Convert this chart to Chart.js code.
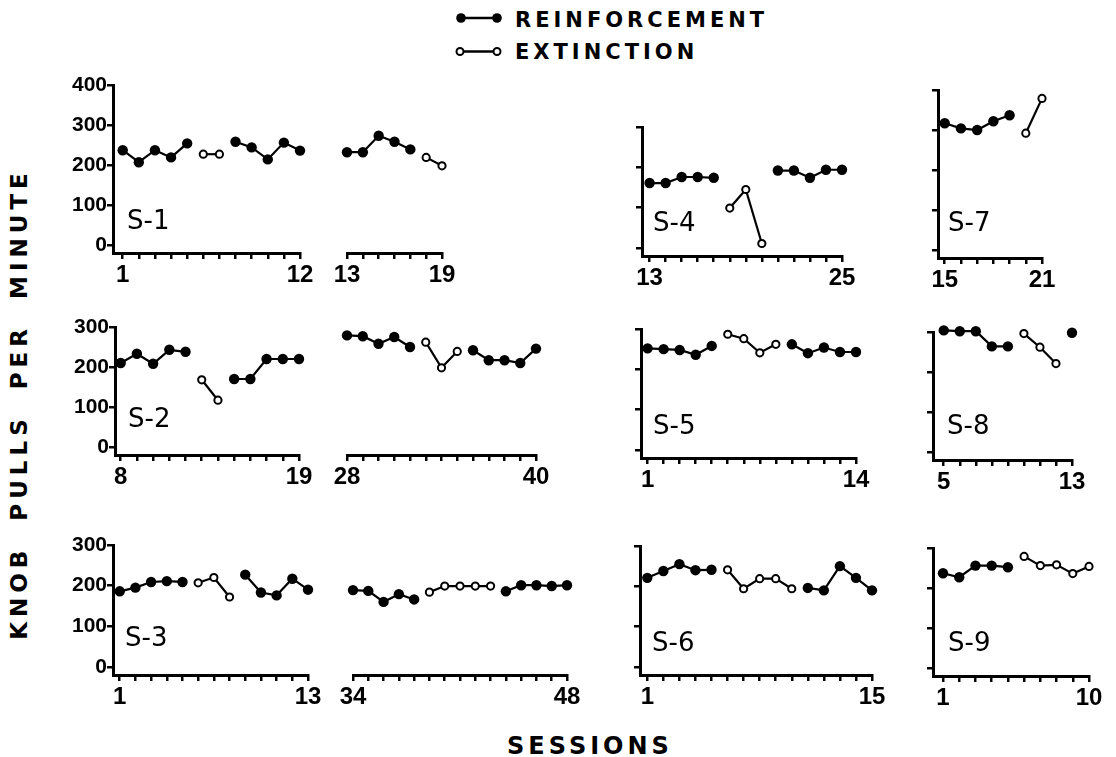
<!DOCTYPE html>
<html>
<head>
  <meta charset="UTF-8" />
  <title>Knob pulls per minute</title>
  <script src="https://cdn.jsdelivr.net/npm/chart.js"></script>
  <style>
    body {
      margin: 0;
      background: #fff;
    }

    #page {
      position: relative;
      width: 1116px;
      height: 757px;
      overflow: hidden;
      font-family: "DejaVu Sans", sans-serif;
      color: #000;
    }

    canvas {
      position: absolute;
    }

    .subj {
      position: absolute;
      font-size: 26px;
      line-height: 26px;
      white-space: nowrap;
    }

    .legend-text {
      position: absolute;
      left: 515px;
      font-size: 21px;
      line-height: 21px;
      font-weight: bold;
      letter-spacing: 4px;
      white-space: nowrap;
    }

    #ytitle {
      position: absolute;
      left: 19px;
      top: 404px;
      font-size: 23px;
      line-height: 23px;
      font-weight: bold;
      letter-spacing: 5px;
      word-spacing: 12px;
      white-space: nowrap;
      transform: translate(-50%, -50%) rotate(-90deg);
    }

    #xtitle {
      position: absolute;
      left: 507px;
      top: 734px;
      font-size: 24px;
      line-height: 24px;
      font-weight: bold;
      letter-spacing: 4px;
      white-space: nowrap;
    }
  </style>
</head>
<body>
  <div id="page">
    <svg style="position:absolute;left:450px;top:8px" width="60" height="56">
      <line x1="11" y1="10" x2="47" y2="10" stroke="#000" stroke-width="2.5" />
      <circle cx="11" cy="10" r="4.8" fill="#000" />
      <circle cx="47" cy="10" r="4.8" fill="#000" />
      <line x1="10" y1="43.5" x2="47" y2="43.5" stroke="#000" stroke-width="2.5" />
      <circle cx="10" cy="43.5" r="3.5" fill="#fff" stroke="#000" stroke-width="2" />
      <circle cx="47" cy="43.5" r="3.5" fill="#fff" stroke="#000" stroke-width="2" />
    </svg>
    <div class="legend-text" style="top:10px">REINFORCEMENT</div>
    <div class="legend-text" style="top:42px">EXTINCTION</div>
    <div id="ytitle">KNOB PULLS PER MINUTE</div>
    <div id="xtitle">SESSIONS</div>
  </div>

  <script>
    // y tick values used on every panel
    const yTickValues = [0, 100, 200, 300, 400];

    // R = reinforcement, E = extinction
    const s1aRange = [1, 12];
    const s1aValues = [237, 207, 237, 219, 254, 227, 227, 258, 244, 214, 256, 236];
    const s1aPhase = 'RRRRREERRRRR';

    const s1bRange = [13, 19];
    const s1bValues = [232, 232, 273, 258, 239, 219, 198];
    const s1bPhase = 'RRRRREE';

    const s4Range = [13, 25];
    const s4Values = [161, 161, 176, 176, 174, 99, 145, 11, 192, 192, 174, 194, 194];
    const s4Phase = 'RRRRREEERRRRR';

    const s7Range = [15, 21];
    const s7Values = [317, 304, 300, 322, 337, 292, 379];
    const s7Phase = 'RRRRREE';

    const s2aRange = [8, 19];
    const s2aValues = [210, 233, 208, 243, 238, 168, 117, 170, 170, 220, 220, 220];
    const s2aPhase = 'RRRRREERRRRR';

    const s2bRange = [28, 40];
    const s2bValues = [279, 277, 258, 275, 250, 262, 198, 239, 242, 217, 217, 210, 246];
    const s2bPhase = 'RRRRREEERRRRR';

    const s5Range = [1, 14];
    const s5Values = [252, 250, 248, 236, 258, 287, 276, 241, 262, 262, 240, 254, 243, 243];
    const s5Phase = 'RRRRREEEERRRRR';

    const s8Range = [5, 13];
    const s8Values = [304, 302, 302, 264, 264, 296, 262, 221, 298];
    const s8Phase = 'RRRRREEER';

    const s3aRange = [1, 13];
    const s3aValues = [186, 195, 209, 211, 209, 207, 220, 172, 227, 183, 176, 217, 190];
    const s3aPhase = 'RRRRREEERRRRR';

    const s3bRange = [34, 48];
    const s3bValues = [189, 187, 160, 179, 166, 184, 199, 199, 199, 199, 186, 201, 201, 199, 201];
    const s3bPhase = 'RRRRREEEEERRRRR';

    const s6Range = [1, 15];
    const s6Values = [221, 238, 255, 240, 241, 241, 194, 219, 219, 194, 196, 190, 250, 221, 190];
    const s6Phase = 'RRRRREEEEERRRRR';

    const s9Range = [1, 10];
    const s9Values = [237, 227, 256, 256, 252, 279, 256, 258, 236, 254];
    const s9Phase = 'RRRRREEEEE';

    const NUM_FONT = '"Liberation Sans", Arial, sans-serif';
    const PAD_T = 20;
    const PAD_R = 20;
    const HX = 40;

    const page = document.getElementById('page');

    function subjLabel(text, left, capTop) {
      const d = document.createElement('div');
      d.className = 'subj';
      d.textContent = text;
      d.style.left = left + 'px';
      d.style.top = (capTop - 3) + 'px';
      page.appendChild(d);
    }

    // lay: axisX (null = no y axis), firstX, lastX, topY, zeroY in page pixels
    function makePanel(range, values, phase, lay) {
      const first = range[0], last = range[1];
      const sessions = values.map((v, i) => first + i);
      const spacing = (lay.lastX - lay.firstX) / (last - first);
      const hasY = lay.axisX !== null;
      const yw = !hasY ? 0 : (lay.labels ? 56 : 14);
      const padLeft = hasY ? 0 : 16;
      const chartLeft = hasY ? lay.axisX : lay.firstX;
      const xMin = first - (lay.firstX - chartLeft) / spacing;
      const ppu = (lay.zeroY - lay.topY) / lay.yMax;
      const baseline = lay.zeroY + 20 * ppu;

      const canvasLeft = Math.round(chartLeft - yw - padLeft);
      const canvasTop = Math.round(lay.topY - PAD_T);
      const w = Math.round(lay.lastX - canvasLeft + PAD_R);
      const h = Math.round(PAD_T + (baseline - lay.topY) + HX);

      const c = document.createElement('canvas');
      c.width = w;
      c.height = h;
      c.style.left = canvasLeft + 'px';
      c.style.top = canvasTop + 'px';
      page.appendChild(c);

      const pick = (p) => sessions.map((s, i) => ({ x: s, y: phase[i] === p ? values[i] : null }));

      new Chart(c.getContext('2d'), {
        type: 'line',
        data: {
          datasets: [
            {
              label: 'Reinforcement',
              data: pick('R'),
              borderColor: '#000',
              borderWidth: 2.2,
              pointRadius: 5.2,
              pointBackgroundColor: '#000',
              pointBorderWidth: 0,
              spanGaps: false,
              clip: false
            },
            {
              label: 'Extinction',
              data: pick('E'),
              borderColor: '#000',
              borderWidth: 2.2,
              pointRadius: 3.6,
              pointBackgroundColor: '#fff',
              pointBorderColor: '#000',
              pointBorderWidth: 2,
              spanGaps: false,
              clip: false
            }
          ]
        },
        options: {
          responsive: false,
          animation: false,
          events: [],
          layout: { padding: { top: PAD_T, right: PAD_R, left: padLeft, bottom: 0 } },
          plugins: { legend: { display: false }, tooltip: { enabled: false } },
          scales: {
            x: {
              type: 'linear',
              min: xMin,
              max: last,
              afterBuildTicks: (s) => { s.ticks = sessions.map(v => ({ value: v })); },
              afterFit: (s) => { s.height = HX; },
              border: { display: true, color: '#000', width: 3 },
              grid: { display: true, drawOnChartArea: false, drawTicks: true, tickLength: 6, color: '#000', lineWidth: 2.5 },
              ticks: {
                autoSkip: false,
                maxRotation: 0,
                padding: 2,
                color: '#000',
                font: { family: NUM_FONT, size: 24, weight: 'bold' },
                callback: (v) => (v === first || v === last) ? String(v) : ''
              }
            },
            y: {
              display: hasY,
              type: 'linear',
              min: -20,
              max: lay.yMax,
              afterBuildTicks: (s) => { s.ticks = yTickValues.filter(v => v <= lay.yMax).map(v => ({ value: v })); },
              afterFit: (s) => { s.width = yw; },
              border: { display: true, color: '#000', width: 3 },
              grid: { display: true, drawOnChartArea: false, drawTicks: true, tickLength: 6, color: '#000', lineWidth: 2.5 },
              ticks: {
                display: !!lay.labels,
                padding: 0,
                color: '#000',
                font: { family: NUM_FONT, size: 21, weight: 'bold' }
              }
            }
          }
        }
      });
    }

    // row 1
    makePanel(s1aRange, s1aValues, s1aPhase, { axisX: 113, firstX: 122.7, lastX: 300, topY: 85, zeroY: 245, yMax: 400, labels: true });
    makePanel(s1bRange, s1bValues, s1bPhase, { axisX: null, firstX: 346.7, lastX: 441.7, topY: 85, zeroY: 245, yMax: 400 });
    makePanel(s4Range, s4Values, s4Phase, { axisX: 641.7, firstX: 649.3, lastX: 841.7, topY: 127.3, zeroY: 248, yMax: 300 });
    makePanel(s7Range, s7Values, s7Phase, { axisX: 938.3, firstX: 945, lastX: 1041.7, topY: 90, zeroY: 250, yMax: 400 });
    // row 2
    makePanel(s2aRange, s2aValues, s2aPhase, { axisX: 115, firstX: 120.7, lastX: 299.3, topY: 327.3, zeroY: 447.3, yMax: 300, labels: true });
    makePanel(s2bRange, s2bValues, s2bPhase, { axisX: null, firstX: 346.7, lastX: 536, topY: 327.3, zeroY: 447.3, yMax: 300 });
    makePanel(s5Range, s5Values, s5Phase, { axisX: 640.7, firstX: 647.3, lastX: 856, topY: 329.3, zeroY: 450.7, yMax: 300 });
    makePanel(s8Range, s8Values, s8Phase, { axisX: 933.3, firstX: 944, lastX: 1071.7, topY: 331.7, zeroY: 451.7, yMax: 300 });
    // row 3
    makePanel(s3aRange, s3aValues, s3aPhase, { axisX: 113.3, firstX: 120, lastX: 307.7, topY: 545, zeroY: 666.7, yMax: 300, labels: true });
    makePanel(s3bRange, s3bValues, s3bPhase, { axisX: null, firstX: 353.3, lastX: 567.3, topY: 545, zeroY: 666.7, yMax: 300 });
    makePanel(s6Range, s6Values, s6Phase, { axisX: 640, firstX: 647.3, lastX: 871.7, topY: 546, zeroY: 666.7, yMax: 300 });
    makePanel(s9Range, s9Values, s9Phase, { axisX: 933.3, firstX: 943.3, lastX: 1089.3, topY: 548.3, zeroY: 668.3, yMax: 300 });

    subjLabel('S-1', 127, 210);
    subjLabel('S-2', 128, 408);
    subjLabel('S-3', 125, 627);
    subjLabel('S-4', 653, 212);
    subjLabel('S-5', 653, 415);
    subjLabel('S-6', 652, 632);
    subjLabel('S-7', 948, 212);
    subjLabel('S-8', 947, 415);
    subjLabel('S-9', 948, 632);
  </script>
</body>
</html>
